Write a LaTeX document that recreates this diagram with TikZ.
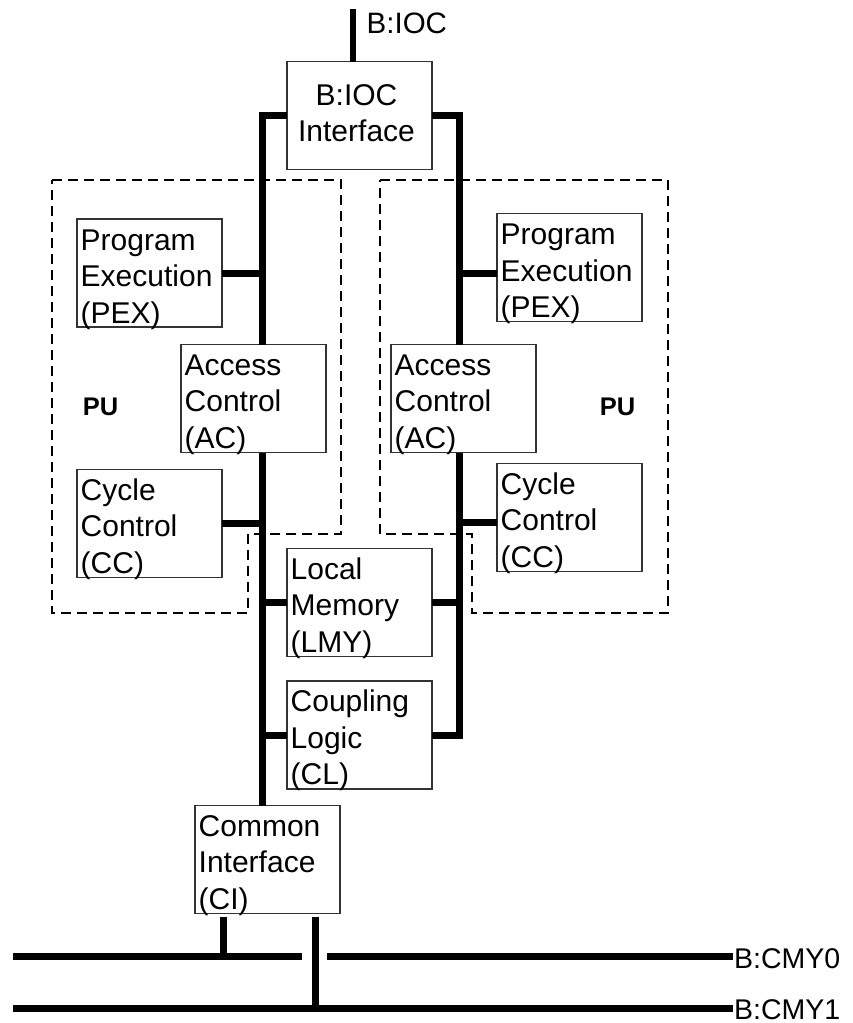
\documentclass[tikz,border=0pt]{standalone}
\usepackage{fontspec}
\setmainfont{Liberation Sans}
\begin{document}
\begin{tikzpicture}[x=1pt,y=-1pt,
  box/.style={draw=black!80, line width=1.4pt, minimum width=145pt, minimum height=108pt, inner sep=0pt, outer sep=0pt},
  txt/.style={inner sep=0pt, align=left, anchor=base west, font={\fontsize{30pt}{36.5pt}\selectfont}},
  ctxt/.style={inner sep=0pt, align=center, anchor=base, font={\fontsize{30pt}{36pt}\selectfont}},
  bus/.style={line width=7pt, line join=miter},
  thinbus/.style={line width=5.5pt},
  pubox/.style={line width=2.8pt, dash pattern=on 10pt off 6pt},
  pulbl/.style={inner sep=0pt, anchor=base, font={\fontsize{25.5pt}{30pt}\selectfont\bfseries}},
  lbl/.style={inner sep=0pt, anchor=base west, font={\fontsize{28.5pt}{34pt}\selectfont}}
]
\useasboundingbox (0,0) rectangle (852,1023);

% PU dashed outlines
\draw[pubox] (52,180) -- (341,180) -- (341,534) -- (248,534) -- (248,613) -- (52,613) -- cycle;
\draw[pubox] (380,180) -- (668,180) -- (668,613) -- (472,613) -- (472,534) -- (380,534) -- cycle;
\node[pulbl] (puL) at (100.5,415) {PU};
\node[pulbl] (puR) at (617.5,415) {PU};

% boxes
\node[box] (ioc)  at (359.5,115.5) {};
\node[box] (pexL) at (149.5,273) {};
\node[box] (acL)  at (253.5,398.5) {};
\node[box] (pexR) at (569.5,267.5) {};
\node[box] (acR)  at (463.5,398.5) {};
\node[box] (ccL)  at (149.5,523.5) {};
\node[box] (ccR)  at (569.5,517.5) {};
\node[box] (lmy)  at (359.5,602.5) {};
\node[box] (cl)   at (359.5,735) {};
\node[box] (ci)   at (267.5,859.5) {};

% box texts (base anchor = baseline of the last line)
\node[ctxt] (iocT) at ([xshift=-3pt,yshift=-80pt]ioc.north) {B:IOC\\Interface};
\node[txt] (pexLT) at ([xshift=3.5pt,yshift=-104pt]pexL.north west) {Program\\Execution\\(PEX)};
\node[txt] (pexRT) at ([xshift=3.5pt,yshift=-104pt]pexR.north west) {Program\\Execution\\(PEX)};
\node[txt] (acLT) at ([xshift=3.5pt,yshift=-103.5pt]acL.north west) {Access\\Control\\(AC)};
\node[txt] (acRT) at ([xshift=3.5pt,yshift=-103.5pt]acR.north west) {Access\\Control\\(AC)};
\node[txt] (ccLT) at ([xshift=3.5pt,yshift=-103.5pt]ccL.north west) {Cycle\\Control\\(CC)};
\node[txt] (ccRT) at ([xshift=3.5pt,yshift=-103.5pt]ccR.north west) {Cycle\\Control\\(CC)};
\node[txt] (lmyT) at ([xshift=3.5pt,yshift=-103.5pt]lmy.north west) {Local\\Memory\\(LMY)};
\node[txt] (clT) at ([xshift=3.5pt,yshift=-103.5pt]cl.north west) {Coupling\\Logic\\(CL)};
\node[txt] (ciT) at ([xshift=3.5pt,yshift=-103.5pt]ci.north west) {Common\\Interface\\(CI)};

% bus positions
\coordinate (busL) at (262,0);
\coordinate (busR) at (459,0);

% B:IOC top
\coordinate (iocTop) at (353,9);
\draw[thinbus] (iocTop) -- (iocTop |- ioc.north);
\node[lbl, font={\fontsize{29.5pt}{34pt}\selectfont}] (iocL) at (366.5,33) {B:IOC};

% left bus
\draw[bus] (ioc.west) -| (acL.north -| busL);
\draw[bus] (pexL.east) -- (pexL.east -| busL);
\draw[bus] (acL.south -| busL) -- (ci.north -| busL);
\draw[bus] (ccL.east) -- (ccL.east -| busL);
\draw[bus] (lmy.west -| busL) -- (lmy.west);
\draw[bus] (cl.west -| busL) -- (cl.west);

% right bus
\draw[bus] (ioc.east) -| (acR.north -| busR);
\draw[bus] ([yshift=-5.5pt]pexR.west -| busR) -- ([yshift=-5.5pt]pexR.west);
\draw[bus] (acR.south -| busR) |- (cl.east);
\draw[bus] ([yshift=-4.5pt]ccR.west -| busR) -- ([yshift=-4.5pt]ccR.west);
\draw[bus] (lmy.east) -- (lmy.east -| busR);

% common memory buses
\coordinate (cmy0a) at (13,956);
\coordinate (cmy0b) at (302,956);
\coordinate (cmy0c) at (327,956);
\coordinate (cmy0e) at (733,956);
\coordinate (cmy1a) at (13,1008.5);
\coordinate (cmy1e) at (733,1008.5);
\draw[bus] (cmy0a) -- (cmy0b);
\draw[bus] (cmy0c) -- (cmy0e);
\draw[bus] (cmy1a) -- (cmy1e);
\node[lbl] (cmy0L) at (734,968) {B:CMY0};
\node[lbl] (cmy1L) at (734,1019) {B:CMY1};

\coordinate (s1) at ([xshift=-44.5pt,yshift=-3pt]ci.south);
\coordinate (s2) at ([xshift=47.5pt,yshift=-3pt]ci.south);
\draw[bus] (s1) -- (s1 |- cmy0a);
\draw[bus] (s2) -- (s2 |- cmy1a);
\end{tikzpicture}
\end{document}
